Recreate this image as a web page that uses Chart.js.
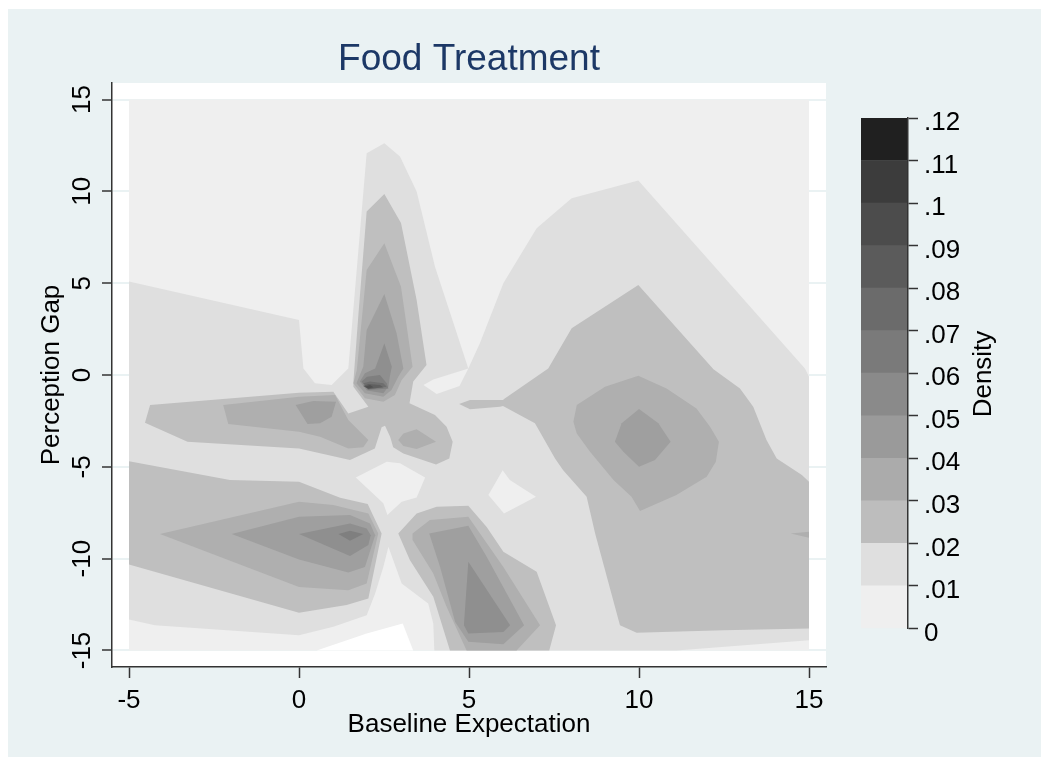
<!DOCTYPE html>
<html>
<head>
<meta charset="utf-8">
<title>Food Treatment</title>
<script src="https://cdn.jsdelivr.net/npm/chart.js@4/dist/chart.umd.min.js"></script>
<style>
  html, body { margin: 0; padding: 0; background: #fff; width: 1041px; height: 757px; overflow: hidden; }
  #panel { position: absolute; left: 8px; top: 9px; right: 0; bottom: 0; background: #eaf2f3; }
  #plot { position: absolute; left: 0; top: 0; }
  #bar { position: absolute; left: 861px; top: 90px; }
</style>
</head>
<body>
<div id="panel"></div>
<canvas id="plot" width="1041" height="757"></canvas>
<canvas id="bar" width="180" height="560"></canvas>
<script>
// axis ticks
const xTicks = [-5, 0, 5, 10, 15];
const yTicks = [-15, -10, -5, 0, 5, 10, 15];
const densityTicks = [0, .01, .02, .03, .04, .05, .06, .07, .08, .09, .1, .11, .12];
const densityLabels = ['0', '.01', '.02', '.03', '.04', '.05', '.06', '.07', '.08', '.09', '.1', '.11', '.12'];
const bandColors = ['#efefef', '#dfdfdf', '#bdbdbd', '#ababab', '#9a9a9a', '#8a8a8a', '#7a7a7a', '#6b6b6b', '#5b5b5b', '#4c4c4c', '#3c3c3c', '#202020'];

// contour outlines, [baseline, gap]
const base = [[-5, 15], [15, 15], [15, -15], [-5, -15]];

const d01 = [[-5, 5.09], [0, 3], [.13, .36], [.47, -.45], [.96, -.54], [1.45, .36], [1.99, 12.08], [2.51, 12.62], [2.97, 11.9], [3.46, 9.99], [4, 5.9], [4.98, .36], [5.32, 1.73], [6.01, 5], [6.99, 7.99], [8.02, 9.63], [9.98, 10.59], [14.88, .36], [15, -.09], [15, -14.44], [11.1, -15], [3.98, -15], [3.95, -13.53], [3.8, -12.44], [3.02, -11.35], [2.63, -9.35], [2.48, -10.45], [2.24, -11.9], [1.99, -13.08], [1.01, -13.71], [0, -14.17], [-4.24, -13.62], [-5, -13.31]];
const holeA = [[1.67, -5.58], [2.58, -4.72], [2.97, -4.81], [3.71, -5.58], [3.46, -6.67], [3.02, -6.9], [2.6, -7.63], [2.48, -6.99]];
const holeB = [[3.66, -.54], [4.05, -1.04], [4.72, -.6], [4.98, .36], [3.95, -.24]];
const holeC = [[5.99, -5.18], [5.57, -6.54], [6.03, -7.54], [6.97, -6.63], [6.2, -5.72]];
const blank = [[.52, -15], [1.99, -14.08], [3.05, -13.53], [3.36, -15]];

const d02a = [[1.99, 8.9], [2.51, 9.86], [3, 8.27], [3.46, 4.09], [3.75, .54], [3.36, -.36], [3.25, -1.54], [4, -2.18], [4.34, -2.82], [4.52, -3.63], [4.42, -4.54], [4.03, -4.87], [3.07, -4.27], [2.77, -3.94], [2.68, -3.36], [2.53, -2.76], [2.43, -2.85], [2.23, -4], [1.5, -4.63], [0, -4], [-3.28, -3.63], [-4.53, -2.6], [-4.38, -1.63], [0, -.96], [1.01, -.91], [1.45, -2.09], [2.04, -1.73], [1.6, -.64], [1.6, -.36], [1.75, 3.36]];
const d02b = [[-5, -4.69], [-2.03, -5.72], [0, -5.81], [1.21, -6.68], [2.02, -7.03], [2.43, -8.63], [2.04, -12.17], [1.4, -12.53], [0, -12.95], [-5, -10.32]];
const d02c = [[2.92, -8.63], [3.46, -7.54], [4.05, -7.18], [4.98, -7.12], [5.52, -8.27], [6.01, -9.63], [6.99, -10.72], [7.56, -13.62], [7.36, -15], [4.44, -15], [3.95, -12.08], [3.26, -10.08]];
const d02d = [[6.01, -1.33], [7.33, .36], [8.02, 2.54], [9.98, 4.9], [12.19, .31], [12.97, -.73], [13.36, -1.73], [13.75, -3.54], [14.05, -4.54], [14.79, -5.45], [15, -5.81], [15, -13.8], [12.48, -13.9], [9.93, -14.03], [9.44, -13.62], [8.71, -8.63], [8.46, -6.63], [7.77, -5.18], [7.53, -4.54], [6.94, -2.63], [6, -1.69], [5.91, -1.73], [5.03, -1.87], [4.71, -1.58], [5.03, -1.36], [6.01, -1.36]];

const d03a = [[1.99, 5.72], [2.51, 7.18], [3, 4.81], [3.34, .45], [3.02, -.27], [2.82, -1.09], [2.48, -1.45], [1.94, -1.27], [1.6, -.45], [1.7, .27]];
const d03b = [[-2.23, -1.63], [0, -1.18], [1.06, -1.09], [1.45, -2.45], [2.04, -3.54], [1.89, -3.94], [1.45, -4], [.62, -3.36], [0, -3.09], [-2.08, -2.67]];
const d03c = [[2.92, -3.54], [3.07, -3.18], [3.46, -2.96], [4.03, -3.63], [3.46, -4.03], [3.07, -3.87]];
const d03d = [[-4.09, -8.66], [0, -6.9], [1.01, -7.08], [2.04, -7.54], [2.33, -8.63], [1.99, -11.35], [1.45, -11.72], [0, -11.54]];
const d03e = [[3.34, -8.63], [3.85, -7.9], [4.98, -7.72], [6.01, -10.45], [7.09, -13.62], [6.4, -15], [4.93, -15], [4.34, -12.62], [3.95, -10.81], [3.34, -8.99]];
const d03f = [[8.17, -1.63], [9, -.64], [9.98, -.04], [10.81, -.73], [11.69, -1.82], [12.09, -2.82], [12.35, -3.63], [12.26, -4.72], [11.99, -5.54], [11.1, -6.54], [10.03, -7.4], [9.78, -6.63], [9.25, -5.72], [8.56, -4.18], [8.17, -3.18], [8.07, -2.54]];
const d03g = [[14.46, -8.63], [15, -8.54], [15, -8.86]];

const d04a = [[2.51, 4.41], [2.87, 2.27], [3.07, .36], [2.92, -.09], [2.72, -.82], [2.48, -1.18], [1.94, -1], [1.69, -.45], [1.89, .45], [1.99, 2.45]];
const d04b = [[-.1, -1.63], [.42, -1.42], [1.09, -1.45], [.96, -2.27], [.62, -2.63], [.25, -2.67]];
const d04c = [[-1.98, -8.66], [0, -7.72], [1.5, -7.63], [2.09, -8.08], [2.24, -8.72], [1.94, -10.45], [1.45, -10.75], [0, -10.04]];
const d04d = [[3.83, -8.63], [4.98, -8.21], [5.52, -9.9], [6.62, -13.62], [6.01, -14.66], [4.98, -14.53], [4.59, -13.44], [4.15, -10.45]];
const d04e = [[10, -1.85], [10.57, -2.63], [10.93, -3.63], [10.47, -4.63], [10, -5], [9.54, -4.18], [9.29, -3.63], [9.49, -2.63]];

const d05a = [[2.51, 1.73], [2.73, .45], [2.67, -.09], [2.63, -.64], [2.48, -1], [2, -.85], [1.79, -.36], [1.94, .09], [2.24, .36]];
const d05b = [[0, -8.66], [1.5, -8.08], [1.99, -8.36], [2.11, -8.72], [2.04, -9.26], [1.5, -9.85]];
const d05c = [[4.98, -10.17], [6.21, -13.62], [6.01, -13.99], [4.98, -14.08], [4.85, -13.62]];

const d06a = [[1.84, -.36], [2, -.09], [2.38, 0], [2.58, -.45], [2.63, -.73], [2.03, -.82]];
const d06b = [[1.16, -8.66], [1.5, -8.48], [1.89, -8.66], [1.5, -9.03]];
const d07a = [[1.89, -.45], [2.09, -.36], [2.48, -.45], [2.58, -.64], [2.04, -.78]];
const d08a = [[1.89, -.6], [2.04, -.49], [2.38, -.54], [2.48, -.67], [2.04, -.76]];
const d09a = [[1.94, -.64], [2.09, -.54], [2.19, -.67], [2.04, -.74]];

// painted in this order, lightest first
const layers = [
  [base, '#efefef'],
  [d01, '#dfdfdf'],
  [holeA, '#efefef'], [holeB, '#efefef'], [holeC, '#efefef'], [blank, '#ffffff'],
  [d02a, '#bfbfbf'], [d02b, '#bfbfbf'], [d02c, '#bfbfbf'], [d02d, '#bfbfbf'],
  [d03a, '#afafaf'], [d03b, '#afafaf'], [d03c, '#afafaf'], [d03d, '#afafaf'], [d03e, '#afafaf'], [d03f, '#afafaf'], [d03g, '#afafaf'],
  [d04a, '#9f9f9f'], [d04b, '#9f9f9f'], [d04c, '#9f9f9f'], [d04d, '#9f9f9f'], [d04e, '#9f9f9f'],
  [d05a, '#8f8f8f'], [d05b, '#8f8f8f'], [d05c, '#8f8f8f'],
  [d06a, '#7f7f7f'], [d06b, '#7f7f7f'],
  [d07a, '#6f6f6f'], [d08a, '#5f5f5f'], [d09a, '#505050']
];

const fontFamily = '"Liberation Sans", Arial, sans-serif';
const axisColor = '#333333';

// white plot region behind the contours
const plotBackground = {
  id: 'plotBackground',
  beforeDraw(chart) {
    const a = chart.chartArea;
    chart.ctx.fillStyle = '#ffffff';
    chart.ctx.fillRect(a.left, a.top, a.right - a.left, a.bottom - a.top);
  }
};

new Chart(document.getElementById('plot'), {
  type: 'scatter',
  plugins: [plotBackground],
  data: {
    datasets: layers.map((l, i) => ({
      data: l[0].map(p => ({ x: p[0], y: p[1] })),
      showLine: true,
      fill: 'shape',
      backgroundColor: l[1],
      borderColor: 'transparent',
      borderWidth: 0,
      pointRadius: 0,
      order: layers.length - i
    }))
  },
  options: {
    responsive: false,
    animation: false,
    events: [],
    layout: { padding: { right: 215 } },
    plugins: {
      legend: { display: false },
      tooltip: { enabled: false },
      title: {
        display: true,
        text: 'Food Treatment',
        fullSize: false,
        color: '#1c3866',
        font: { family: fontFamily, size: 37, weight: 'normal', lineHeight: 1.2 },
        padding: { top: 38, bottom: .6 }
      }
    },
    scales: {
      x: {
        type: 'linear',
        min: -5.5,
        max: 15.5,
        afterBuildTicks: s => { s.ticks = xTicks.map(v => ({ value: v })); },
        afterFit: s => { s.height = 90; },
        grid: { drawOnChartArea: false, tickColor: axisColor, tickLength: 11, tickWidth: 1.5 },
        border: { color: axisColor, width: 1.5 },
        ticks: { color: '#000', maxRotation: 0, padding: 7, font: { family: fontFamily, size: 26 }, callback: v => String(v) },
        title: { display: true, text: 'Baseline Expectation', color: '#000', font: { family: fontFamily, size: 26 }, padding: { top: 0, bottom: 16.4 } }
      },
      y: {
        type: 'linear',
        min: -15.9,
        max: 15.9,
        afterBuildTicks: s => { s.ticks = yTicks.map(v => ({ value: v })); },
        afterFit: s => { s.width = 112; },
        grid: { color: '#eaf2f3', lineWidth: 2, tickColor: axisColor, tickLength: 10, tickWidth: 1.5 },
        border: { color: axisColor, width: 1.5 },
        ticks: { color: '#000', minRotation: 90, crossAlign: 'center', padding: 0, font: { family: fontFamily, size: 26 }, callback: v => String(v) },
        title: { display: true, text: 'Perception Gap', color: '#000', font: { family: fontFamily, size: 26 }, padding: { top: 36, bottom: 0 } }
      }
    }
  }
});

// axis title of the colour bar reads upward, scale titles on the right read downward
const densityTitle = {
  id: 'densityTitle',
  afterDraw(chart) {
    const ctx = chart.ctx;
    ctx.save();
    ctx.translate(123, 284);
    ctx.rotate(-Math.PI / 2);
    ctx.fillStyle = '#000';
    ctx.font = '26px ' + fontFamily;
    ctx.textAlign = 'center';
    ctx.textBaseline = 'middle';
    ctx.fillText('Density', 0, 0);
    ctx.restore();
  }
};

new Chart(document.getElementById('bar'), {
  type: 'bar',
  plugins: [densityTitle],
  data: {
    labels: ['Density'],
    datasets: bandColors.map((c, i) => ({
      data: [[densityTicks[i], densityTicks[i + 1]]],
      backgroundColor: c,
      borderWidth: 0,
      grouped: false,
      barPercentage: 1,
      categoryPercentage: 1
    }))
  },
  options: {
    responsive: false,
    animation: false,
    events: [],
    layout: { padding: { top: 28, bottom: 18 } },
    plugins: { legend: { display: false }, tooltip: { enabled: false } },
    scales: {
      x: { display: false },
      y: {
        position: 'right',
        min: 0,
        max: .12,
        afterBuildTicks: s => { s.ticks = densityTicks.map(v => ({ value: v })); },
        afterFit: s => { s.width = 133; },
        grid: { drawOnChartArea: false, tickColor: axisColor, tickLength: 10, tickWidth: 1.5 },
        border: { color: axisColor, width: 1.5, z: 1 },
        ticks: { color: '#000', padding: 6, labelOffset: 5, font: { family: fontFamily, size: 26 }, callback: (v, i) => densityLabels[i] }
      }
    }
  }
});
</script>
</body>
</html>
